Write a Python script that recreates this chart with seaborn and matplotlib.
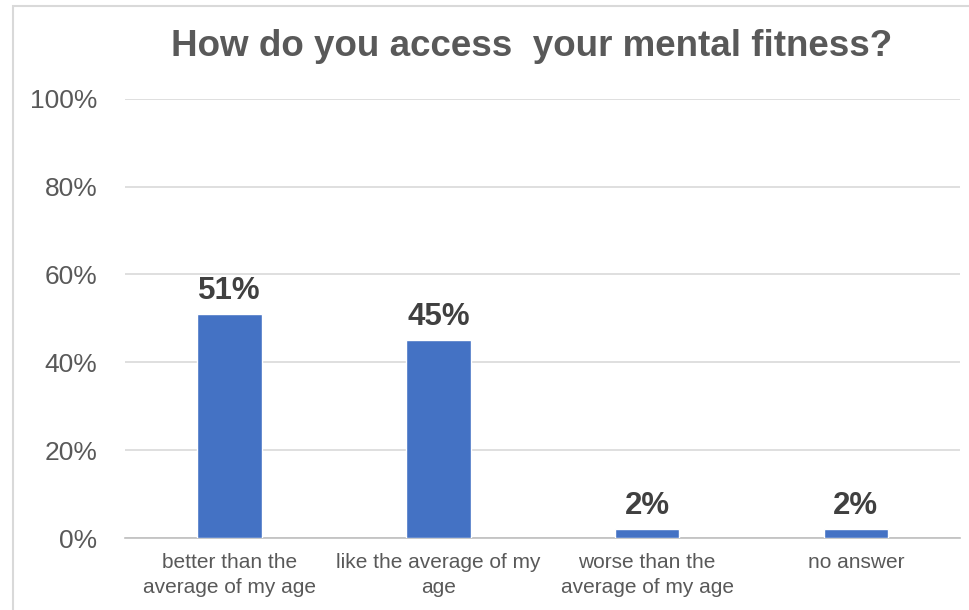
import matplotlib
matplotlib.use("Agg")
import matplotlib.pyplot as plt
import matplotlib.patches as mpatches
from matplotlib.ticker import PercentFormatter
import pandas as pd
import seaborn as sns

categories = [
    "better than the\naverage of my age",
    "like the average of my\nage",
    "worse than the\naverage of my age",
    "no answer",
]
shares = [0.51, 0.45, 0.02, 0.02]
bar_labels = ["51%", "45%", "2%", "2%"]
title = "How do you access  your mental fitness?"

df = pd.DataFrame({"answer": categories, "share": shares})

sns.set_style("white")
plt.rcParams["font.family"] = ["Liberation Sans", "DejaVu Sans"]

text_grey = "#595959"
bar_blue = "#4472C4"

fig = plt.figure(figsize=(9.7, 6.1), dpi=100)
ax = fig.add_axes([0.129, 0.118, 0.861, 0.72])

sns.barplot(data=df, x="answer", y="share", color=bar_blue, width=0.31,
            saturation=1, ax=ax, zorder=3)

ax.set_ylim(0, 1)
ax.set_yticks([0, 0.2, 0.4, 0.6, 0.8, 1.0])
ax.yaxis.set_major_formatter(PercentFormatter(1.0, decimals=0))
ax.yaxis.grid(True, color="#d9d9d9", linewidth=1.2, zorder=0)
ax.set_axisbelow(True)

for s in ["top", "right", "left"]:
    ax.spines[s].set_visible(False)
ax.spines["bottom"].set_color("#bfbfbf")
ax.spines["bottom"].set_linewidth(1.2)

ax.tick_params(axis="y", length=0, labelsize=19, labelcolor=text_grey, pad=20)
ax.tick_params(axis="x", length=0, labelsize=15, labelcolor=text_grey, pad=11)
for t in ax.get_xticklabels():
    t.set_linespacing(1.35)
ax.set_xlabel("")
ax.set_ylabel("")

for bar, lab in zip(ax.patches, bar_labels):
    ax.annotate(lab, (bar.get_x() + bar.get_width() / 2, bar.get_height()),
                xytext=(0, 6), textcoords="offset points", ha="center",
                va="bottom", fontsize=22.5, fontweight="bold", color="#404040")

fig.text(532 / 970, 1 - 46 / 610, title, fontsize=26.5, fontweight="bold",
         color=text_grey, ha="center", va="center")

# chart frame, as in the spreadsheet export
frame = mpatches.Rectangle((13 / 970, -0.05), 1.2, 1.05 - 6 / 610,
                           transform=fig.transFigure, fill=False,
                           edgecolor="#d9d9d9", linewidth=1.5)
fig.patches.append(frame)

fig.savefig("out.png", dpi=100)
